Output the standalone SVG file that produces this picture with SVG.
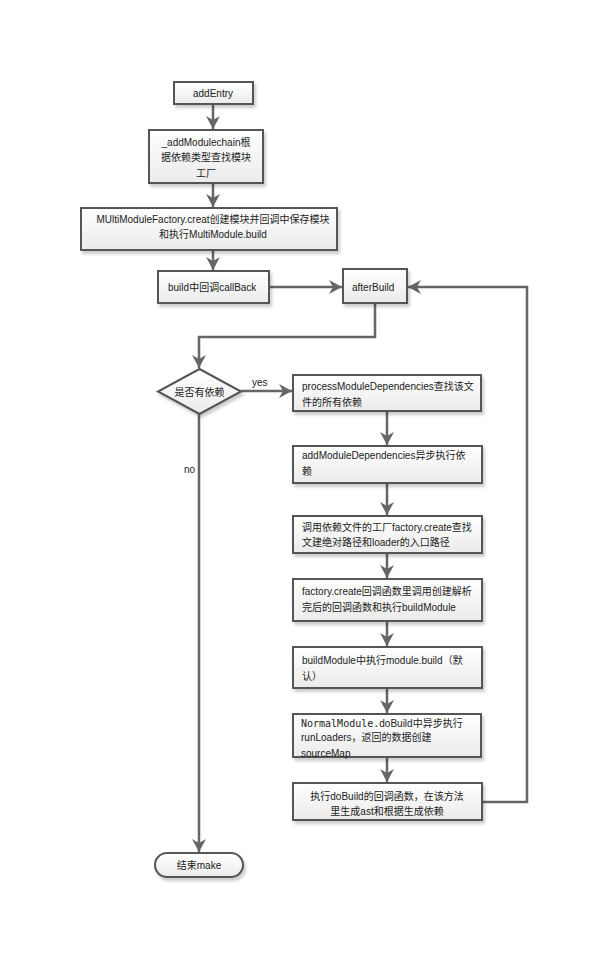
<svg xmlns="http://www.w3.org/2000/svg" width="610" height="956" viewBox="0 0 610 956">
<defs>
<linearGradient id="g" x1="0" y1="0" x2="0" y2="1">
<stop offset="0" stop-color="#ffffff"/>
<stop offset="1" stop-color="#ebebeb"/>
</linearGradient>
<filter id="sh" x="-10%" y="-10%" width="130%" height="140%">
<feDropShadow dx="2" dy="3" stdDeviation="1.5" flood-color="#000" flood-opacity="0.2"/>
</filter>
<marker id="ar" markerUnits="userSpaceOnUse" markerWidth="16" markerHeight="16" viewBox="-1 -8 15 16" refX="13" refY="0" orient="auto">
<path d="M0,-7 L13,0 L0,7 L4,0 Z" fill="#666"/>
</marker>
<style>
.box{fill:url(#g);stroke:#555;stroke-width:2;filter:url(#sh)}
.t{font-family:"Liberation Sans","Noto Sans CJK SC",sans-serif;font-size:10px;fill:#222}
.m{font-family:"DejaVu Sans Mono","Liberation Mono",monospace}
.c{text-anchor:middle}
.ln{fill:none;stroke:#666;stroke-width:2.5}
</style>
</defs>
<rect width="610" height="956" fill="#fff"/>
<g id="connectors">
<path class="ln" d="M213,104 V129" marker-end="url(#ar)"/>
<path class="ln" d="M213,183 V207" marker-end="url(#ar)"/>
<path class="ln" d="M213,250 V270" marker-end="url(#ar)"/>
<path class="ln" d="M269,287 H342" marker-end="url(#ar)"/>
<path class="ln" d="M375,303 V337 H199 V368" marker-end="url(#ar)"/>
<path class="ln" d="M241,391 H292" marker-end="url(#ar)"/>
<path class="ln" d="M199,414 V852" marker-end="url(#ar)"/>
<path class="ln" d="M387,411 V445" marker-end="url(#ar)"/>
<path class="ln" d="M387,483 V515" marker-end="url(#ar)"/>
<path class="ln" d="M387,553 V578" marker-end="url(#ar)"/>
<path class="ln" d="M387,621 V646" marker-end="url(#ar)"/>
<path class="ln" d="M387,688 V713" marker-end="url(#ar)"/>
<path class="ln" d="M387,757 V782" marker-end="url(#ar)"/>
<path class="ln" d="M482,802 H527 V287 H408" marker-end="url(#ar)"/>
<text class="t" x="252" y="386">yes</text>
<text class="t" x="184" y="473">no</text>
</g>
<g id="addEntry">
<rect class="box" x="174" y="82" width="79" height="22"/>
<text class="t c" x="213" y="97">addEntry</text>
</g>
<g id="addModuleChain">
<rect class="box" x="149" y="130" width="114" height="53"/>
<text class="t c" x="206" y="146">_addModulechain根</text>
<text class="t c" x="206" y="161">据依赖类型查找模块</text>
<text class="t c" x="206" y="177">工厂</text>
</g>
<g id="multiModuleFactory">
<rect class="box" x="81" y="208" width="256" height="42"/>
<text class="t c" x="213" y="223">MUltiModuleFactory.creat创建模块并回调中保存模块</text>
<text class="t c" x="213" y="238">和执行MultiModule.build</text>
</g>
<g id="buildCallBack">
<rect class="box" x="158" y="271" width="111" height="32"/>
<text class="t" x="168" y="291">build中回调callBack</text>
</g>
<g id="afterBuild">
<rect class="box" x="343" y="269" width="64" height="34"/>
<text class="t" x="352" y="291">afterBuild</text>
</g>
<g id="hasDeps">
<path class="box" d="M199.5,369 L241,391.5 L199.5,414 L158,391.5 Z"/>
<text class="t c" x="199.5" y="395.5">是否有依赖</text>
</g>
<g id="processModuleDependencies">
<rect class="box" x="293" y="375" width="188" height="36"/>
<text class="t" x="302" y="390">processModuleDependencies查找该文</text>
<text class="t" x="302" y="406">件的所有依赖</text>
</g>
<g id="addModuleDependencies">
<rect class="box" x="293" y="446" width="189" height="37"/>
<text class="t" x="302" y="459">addModuleDependencies异步执行依</text>
<text class="t" x="302" y="475">赖</text>
</g>
<g id="factoryCreate">
<rect class="box" x="293" y="516" width="189" height="37"/>
<text class="t" x="302" y="531">调用依赖文件的工厂factory.create查找</text>
<text class="t" x="302" y="546">文建绝对路径和loader的入口路径</text>
</g>
<g id="factoryCallback">
<rect class="box" x="293" y="579" width="189" height="42"/>
<text class="t" x="302" y="595">factory.create回调函数里调用创建解析</text>
<text class="t" x="302" y="611">完后的回调函数和执行buildModule</text>
</g>
<g id="buildModule">
<rect class="box" x="293" y="647" width="189" height="41"/>
<text class="t" x="302" y="664">buildModule中执行module.build（默</text>
<text class="t" x="302" y="680">认）</text>
</g>
<g id="doBuild">
<rect class="box" x="293" y="714" width="188" height="43"/>
<text class="t" x="301" y="727"><tspan class="m">NormalModule.</tspan>doBuild中异步执行</text>
<text class="t" x="301" y="741">runLoaders，返回的数据创建</text>
<text class="t" x="301" y="757">sourceMap</text>
</g>
<g id="doBuildCallback">
<rect class="box" x="293" y="783" width="189" height="37"/>
<text class="t c" x="387" y="800">执行doBuild的回调函数，在该方法</text>
<text class="t c" x="387" y="815">里生成ast和根据生成依赖</text>
</g>
<g id="endMake">
<rect class="box" x="155" y="853" width="88" height="24" rx="12" ry="12"/>
<text class="t c" x="199" y="869">结束make</text>
</g>
</svg>
